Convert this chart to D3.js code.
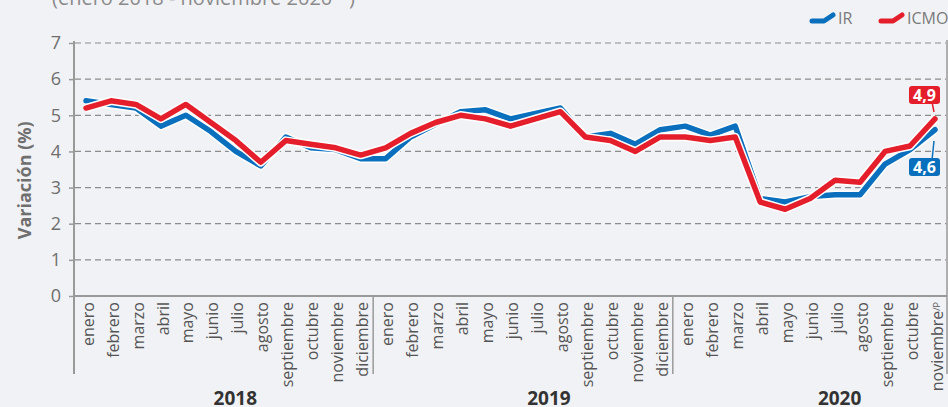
<!DOCTYPE html>
<html lang="es">
<head>
<meta charset="utf-8">
<title>IR e ICMO</title>
<script type="text/javascript" src="https://d3js.org/d3.v7.min.js"></script>
<style>
body { margin: 0; background: #f1f2f5; }
svg { display: block; font-family: "Open Sans", sans-serif; }
</style>
</head>
<body>
<div id="chart"></div>
<script type="text/javascript">

// meses y años
var months = ["enero","febrero","marzo","abril","mayo","junio","julio","agosto","septiembre","octubre","noviembre","diciembre"];
var years = ["2018", "2019", "2020"];
var monthsLastYear = 11;

// Variación (%) anual
var ir = [5.4, 5.3, 5.2, 4.7, 5.0, 4.55, 4.0, 3.6, 4.4, 4.1, 4.05, 3.8,
          3.8, 4.4, 4.75, 5.1, 5.15, 4.9, 5.05, 5.2, 4.4, 4.5, 4.2, 4.6,
          4.7, 4.45, 4.7, 2.7, 2.6, 2.75, 2.8, 2.8, 3.65, 4.05, 4.6];
var icmo = [5.2, 5.4, 5.3, 4.9, 5.3, 4.8, 4.3, 3.7, 4.3, 4.2, 4.1, 3.9,
            4.1, 4.5, 4.8, 5.0, 4.9, 4.7, 4.9, 5.1, 4.4, 4.3, 4.0, 4.4,
            4.4, 4.3, 4.4, 2.6, 2.4, 2.7, 3.2, 3.15, 4.0, 4.15, 4.9];
var yTicks = [0, 1, 2, 3, 4, 5, 6, 7];

var w = 948, h = 407;
var blue = "#0a6fbd", red = "#e41f2b", grey = "#6f6f6f";

var svg = d3.select("#chart").append("svg")
  .attr("width", w).attr("height", h);

// build the month list
var labels = [];
years.forEach(function(y, yi) {
  var n = yi === years.length - 1 ? monthsLastYear : 12;
  for (var m = 0; m < n; m++) labels.push({ month: months[m], year: y, i: labels.length });
});

var x = d3.scaleLinear().domain([0, labels.length - 1]).range([86, 935]);
var y = d3.scaleLinear().domain([0, 7]).range([296, 43]);
var step = x(1) - x(0);

// subtitle, cut off at the top as in the original
var sub = svg.append("text").attr("x", 52).attr("y", 5)
  .attr("font-size", 20).attr("fill", "#8a8a8a")
  .text("(enero 2018 - noviembre 2020");
sub.append("tspan").attr("font-size", 12).attr("dy", -7).text("/P");
sub.append("tspan").attr("dy", 7).text(" )");

// gridlines
svg.append("g").selectAll("line")
  .data(yTicks.filter(function(d) { return d > 0; }))
  .enter().append("line")
  .attr("x1", 75).attr("x2", 946)
  .attr("y1", function(d) { return y(d); }).attr("y2", function(d) { return y(d); })
  .attr("stroke", "#8c8c8c").attr("stroke-width", 1.2)
  .attr("stroke-dasharray", "6,4");

// y axis
var yAxis = svg.append("g").attr("transform", "translate(74,0)")
  .call(d3.axisLeft(y).tickValues(yTicks).tickFormat(d3.format("d")).tickSize(5).tickPadding(8));
yAxis.select(".domain").remove();
yAxis.selectAll("line").attr("stroke", "#999").attr("stroke-width", 1.5);
yAxis.selectAll("text").attr("font-size", 18).attr("fill", grey)
  .attr("font-family", "Open Sans, sans-serif");

svg.append("text")
  .attr("transform", "translate(31," + y(3.2) + ") rotate(-90)")
  .attr("text-anchor", "middle").attr("font-size", 18).attr("font-weight", 700)
  .attr("fill", grey).text("Variación (%)");

// axis frame
svg.append("line").attr("x1", 74).attr("x2", 74).attr("y1", 41).attr("y2", 374)
  .attr("stroke", "#999").attr("stroke-width", 2);
svg.append("line").attr("x1", 74).attr("x2", 947).attr("y1", 296).attr("y2", 296)
  .attr("stroke", "#999").attr("stroke-width", 2);
svg.append("line").attr("x1", 947).attr("x2", 947).attr("y1", 40).attr("y2", 374)
  .attr("stroke", "#999").attr("stroke-width", 1.5);

// year separators
svg.append("g").selectAll("line")
  .data(labels.filter(function(d) { return d.month === "enero" && d.i > 0; }))
  .enter().append("line")
  .attr("x1", function(d) { return x(d.i) - step / 2; })
  .attr("x2", function(d) { return x(d.i) - step / 2; })
  .attr("y1", 296).attr("y2", 374)
  .attr("stroke", "#999").attr("stroke-width", 1.5);

// month labels
svg.append("g").selectAll("text")
  .data(labels).enter().append("text")
  .attr("transform", function(d) { return "translate(" + (x(d.i) + 2) + ",302) rotate(-90)"; })
  .attr("text-anchor", "end").attr("dy", "0.35em")
  .attr("font-size", 16).attr("fill", "#555")
  .text(function(d) { return d.month; })
  .filter(function(d) { return d.i === labels.length - 1; })
  .append("tspan").attr("font-size", 9).attr("dy", "-0.3em").text("/P");

// year labels
var yearShift = [12, 26, 17];
svg.append("g").selectAll("text")
  .data(years).enter().append("text")
  .attr("x", function(d, i) { return x(i * 12 + 5.5) + yearShift[i]; })
  .attr("y", 405).attr("text-anchor", "middle")
  .attr("font-size", 19).attr("font-weight", 700).attr("fill", "#333")
  .text(function(d) { return d; });

// lines with white halo
var line = d3.line()
  .x(function(d, i) { return x(i); })
  .y(function(d) { return y(d); });

[[ir, blue], [icmo, red]].forEach(function(s) {
  svg.append("path").datum(s[0]).attr("d", line)
    .attr("fill", "none").attr("stroke", "#fff").attr("stroke-width", 8.5)
    .attr("stroke-linejoin", "round");
  svg.append("path").datum(s[0]).attr("d", line)
    .attr("fill", "none").attr("stroke", s[1]).attr("stroke-width", 5.5)
    .attr("stroke-linejoin", "round").attr("stroke-linecap", "round");
});

// end labels
var last = labels.length - 1;
function endLabel(v, color, boxY, tipY) {
  var bx = 909, bw = 31, bh = 18;
  svg.append("line").attr("x1", x(last) - 3).attr("x2", x(last) - 1)
    .attr("y1", boxY + (tipY > boxY ? bh - 2 : 2)).attr("y2", tipY)
    .attr("stroke", color).attr("stroke-width", 1.5);
  svg.append("rect").attr("x", bx).attr("y", boxY).attr("width", bw).attr("height", bh)
    .attr("rx", 3).attr("fill", color);
  svg.append("text").attr("x", bx + bw / 2).attr("y", boxY + bh / 2).attr("dy", "0.36em")
    .attr("text-anchor", "middle").attr("font-size", 16).attr("font-weight", 700)
    .attr("fill", "#fff").text(d3.format(".1f")(v).replace(".", ","));
}
endLabel(icmo[last], red, 86, 112);
endLabel(ir[last], blue, 158, 141);

// legend
var legend = [["IR", blue, 810], ["ICMO", red, 879]];
legend.forEach(function(l) {
  var g = svg.append("g").attr("transform", "translate(" + l[2] + ",0)");
  g.append("path").attr("d", "M2,21 L14,21 L23,15")
    .attr("fill", "none").attr("stroke", l[1]).attr("stroke-width", 5)
    .attr("stroke-linecap", "round").attr("stroke-linejoin", "round");
  g.append("text").attr("x", 28).attr("y", 24).attr("font-size", 16)
    .attr("fill", "#7a7a7a").text(l[0]);
});

</script>
</body>
</html>
